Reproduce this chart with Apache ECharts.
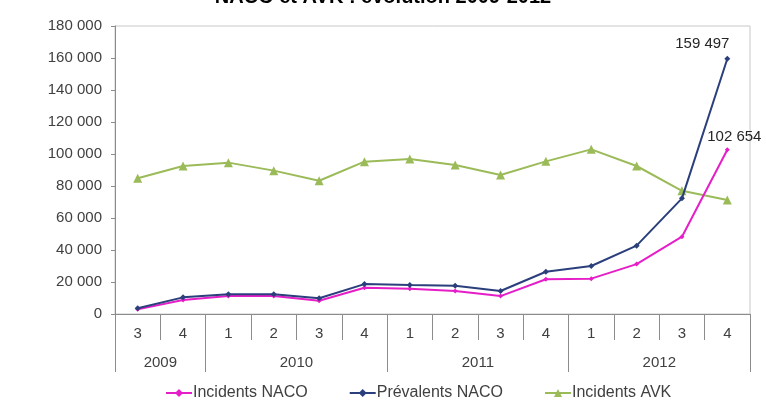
<!DOCTYPE html>
<html>
<head>
<meta charset="utf-8">
<script src="https://cdn.jsdelivr.net/npm/echarts@6/dist/echarts.min.js"></script>
<style>
  html, body { margin: 0; padding: 0; background: #fff; }
  #chart { width: 766px; height: 408px; }
</style>
</head>
<body>
<div id="chart"></div>
<script>
// quarters and the year each one belongs to
var quarters = ['3', '4', '1', '2', '3', '4', '1', '2', '3', '4', '1', '2', '3', '4']
var quarterYears = ['2009', '2009', '2010', '2010', '2010', '2010', '2011', '2011', '2011', '2011', '2012', '2012', '2012', '2012']

var incidentsNaco = [2900, 8700, 11200, 11200, 8300, 16400, 15800, 14400, 11200, 21700, 22100, 31200, 48300, 102654]
var prevalentsNaco = [3600, 10400, 12300, 12300, 9800, 18700, 18100, 17700, 14400, 26400, 30000, 42700, 72300, 159497]
var incidentsAvk = [84800, 92500, 94600, 89600, 83300, 95200, 96900, 93100, 86900, 95400, 102900, 92500, 77000, 71200]

var yTicks = [0, 20000, 40000, 60000, 80000, 100000, 120000, 140000, 160000, 180000]

function fmt(v) {
  return String(v).replace(/\B(?=(\d{3})+(?!\d))/g, ' ')
}

// year boundaries / centers, on a 0..n value scale
var yearBounds = [0]
var yearCenters = []
var yearNames = []
var start = 0
for (var i = 1; i <= quarterYears.length; i++) {
  if (i === quarterYears.length || quarterYears[i] !== quarterYears[i - 1]) {
    yearBounds.push(i)
    yearCenters.push((start + i) / 2)
    yearNames.push(quarterYears[start])
    start = i
  }
}

// label only on the last point
function lastLabel(arr, offset) {
  return arr.map(function (v, idx) {
    if (idx !== arr.length - 1) return v
    return {
      value: v,
      label: {
        show: true,
        position: 'top',
        offset: offset,
        formatter: function (p) { return fmt(p.value) },
        color: '#262626',
        fontSize: 15,
        fontFamily: 'Liberation Sans, Arial, sans-serif'
      }
    }
  })
}

var textStyle = { color: '#404040', fontSize: 15, fontFamily: 'Liberation Sans, Arial, sans-serif' }

var chart = echarts.init(document.getElementById('chart'))
chart.setOption({
  animation: false,
  title: {
    text: 'NACO et AVK : évolution 2009-2012',
    left: 'center',
    top: -18,
    textStyle: { fontSize: 20, fontWeight: 'bold', color: '#000', fontFamily: 'Liberation Sans, Arial, sans-serif' }
  },
  grid: {
    left: 115,
    right: 16,
    top: 26,
    bottom: 94,
    show: true,
    borderColor: '#c8c8c8',
    borderWidth: 1
  },
  legend: {
    left: 160,
    top: 380,
    itemWidth: 26,
    itemHeight: 10,
    itemGap: 41,
    textStyle: { color: '#404040', fontSize: 16, fontFamily: 'Liberation Sans, Arial, sans-serif', padding: [0, 0, 0, -4] },
    data: ['Incidents NACO', 'Prévalents NACO', 'Incidents AVK']
  },
  xAxis: [
    {
      type: 'category',
      data: quarters,
      position: 'bottom',
      boundaryGap: true,
      axisLine: { lineStyle: { color: '#8c8c8c', width: 1 } },
      axisTick: { show: true, interval: 0, length: 26, lineStyle: { color: '#8c8c8c' } },
      axisLabel: Object.assign({ margin: 12, interval: 0 }, textStyle),
      splitLine: { show: false }
    },
    {
      type: 'value',
      min: 0,
      max: quarters.length,
      position: 'bottom',
      axisLine: { show: false },
      axisTick: { show: true, customValues: yearBounds, length: 58, lineStyle: { color: '#8c8c8c' } },
      axisLabel: Object.assign({
        customValues: yearCenters,
        margin: 41,
        formatter: function (v) {
          var k = yearCenters.indexOf(v)
          return k >= 0 ? yearNames[k] : ''
        }
      }, textStyle),
      splitLine: { show: false }
    }
  ],
  yAxis: {
    type: 'value',
    min: 0,
    max: 180000,
    interval: 20000,
    axisLine: { show: true, lineStyle: { color: '#8c8c8c' } },
    axisTick: { show: true, length: 4, lineStyle: { color: '#8c8c8c' } },
    axisLabel: Object.assign({
      margin: 13,
      formatter: function (v) { return yTicks.indexOf(v) >= 0 ? fmt(v) : '' }
    }, textStyle),
    splitLine: { show: false }
  },
  series: [
    {
      name: 'Incidents AVK',
      type: 'line',
      data: incidentsAvk,
      symbol: 'triangle',
      symbolSize: 9,
      color: '#9bbb59',
      lineStyle: { color: '#9bbb59', width: 2 },
      itemStyle: { color: '#9bbb59' },
      z: 2
    },
    {
      name: 'Incidents NACO',
      type: 'line',
      data: lastLabel(incidentsNaco, [7, 2]),
      symbol: 'diamond',
      symbolSize: 5,
      color: '#e61ec8',
      lineStyle: { color: '#e61ec8', width: 2 },
      itemStyle: { color: '#e61ec8' },
      z: 3
    },
    {
      name: 'Prévalents NACO',
      type: 'line',
      data: lastLabel(prevalentsNaco, [-25, 1]),
      symbol: 'diamond',
      symbolSize: 6,
      color: '#2b3f7c',
      lineStyle: { color: '#2b3f7c', width: 2 },
      itemStyle: { color: '#2b3f7c' },
      z: 4
    }
  ]
})
</script>
</body>
</html>
